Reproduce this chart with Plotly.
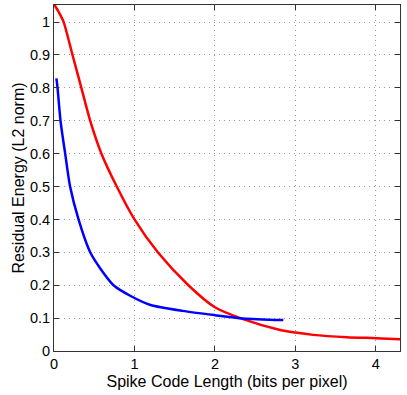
import plotly.graph_objects as go

# values
red_x = [0.0, 0.06, 0.12, 0.23, 0.34, 0.45, 0.59, 0.78, 1.0, 1.29, 1.67, 2.0, 2.35, 2.81, 3.0, 3.22, 3.64, 4.0, 4.3]
red_y = [1.055, 1.03, 1.0, 0.9, 0.8, 0.7, 0.6, 0.5, 0.4, 0.3, 0.2, 0.133, 0.097, 0.064, 0.056, 0.049, 0.042, 0.039, 0.036]

blue_x = [0.03, 0.044, 0.081, 0.139, 0.20, 0.305, 0.45, 0.575, 0.74, 0.97, 1.2, 1.6, 2.0, 2.35, 2.85]
blue_y = [0.829, 0.8, 0.7, 0.6, 0.5, 0.4, 0.3, 0.251, 0.2, 0.165, 0.14, 0.122, 0.109, 0.099, 0.094]

x_ticks = [0, 1, 2, 3, 4]
y_ticks = [0, 0.1, 0.2, 0.3, 0.4, 0.5, 0.6, 0.7, 0.8, 0.9, 1]

TICK_FONT = dict(family="Liberation Sans, Arial, sans-serif", size=14.5, color="#000")
TITLE_FONT = dict(family="Liberation Sans, Arial, sans-serif", size=16, color="#000")

AXIS = dict(
    showline=True, linecolor="#333", linewidth=1, mirror="ticks",
    ticks="inside", ticklen=5, tickcolor="#333",
    showgrid=True, gridcolor="#999", gridwidth=1, griddash="1px,4px",
    zeroline=False, tickfont=TICK_FONT, automargin=False,
)

fig = go.Figure()
fig.add_trace(go.Scatter(x=red_x, y=red_y, mode="lines",
    line=dict(color="#ff0000", width=2.5, shape="spline", smoothing=0.7)))
fig.add_trace(go.Scatter(x=blue_x, y=blue_y, mode="lines",
    line=dict(color="#0000ff", width=2.5, shape="spline", smoothing=0.7)))

fig.update_layout(
    width=407, height=395,
    paper_bgcolor="white", plot_bgcolor="white",
    margin=dict(l=54, r=7, t=5, b=44),
    showlegend=False, font=TICK_FONT,
    xaxis=dict(**AXIS, range=[0, 4.3], tickvals=x_ticks,
               title=dict(text="Spike Code Length (bits per pixel)", font=TITLE_FONT, standoff=4)),
    yaxis=dict(**AXIS, range=[0, 1.052], tickvals=y_ticks,
               title=dict(text="Residual Energy (L2 norm)", font=TITLE_FONT, standoff=1)),
)

# the page body has a default 8px margin; drop it so the figure sits at 0,0
fig.write_html("out.html", config={"displayModeBar": False},
               post_script="document.body.style.margin='0';")
